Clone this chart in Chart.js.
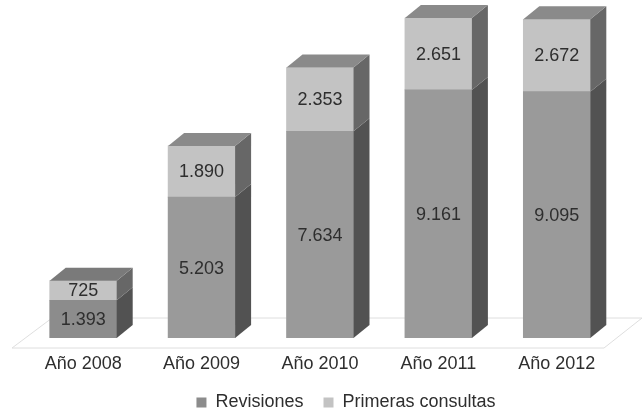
<!DOCTYPE html>
<html>
<head>
<meta charset="utf-8">
<script src="https://cdn.jsdelivr.net/npm/chart.js@4"></script>
<style>
  html, body { margin: 0; padding: 0; background: #fff; }
  #wrap { width: 644px; height: 414px; }
</style>
</head>
<body>
<div id="wrap"><canvas id="chart" width="644" height="414"></canvas></div>
<script>
const years = ['Año 2008', 'Año 2009', 'Año 2010', 'Año 2011', 'Año 2012'];
const revisiones = [1393, 5203, 7634, 9161, 9095];
const primeras = [725, 1890, 2353, 2651, 2672];

// colours
const revFront = ['#8c8c8c', '#9a9a9a', '#9a9a9a', '#9a9a9a', '#9a9a9a'];
const primFront = '#c3c3c3';
const sideColors = ['#525252', '#676767'];
const topColors = ['#7a7a7a', '#8a8a8a', '#8a8a8a', '#8a8a8a', '#8a8a8a'];
const DX = 16, DY = 13;
const FONT = '"Liberation Sans", Arial, sans-serif';

function fmt(n) {
  return String(n).replace(/\B(?=(\d{3})+(?!\d))/g, '.');
}

// floor under the bars
const floorPlugin = {
  id: 'floor',
  beforeDatasetsDraw(chart) {
    const a = chart.chartArea, ctx = chart.ctx;
    ctx.save();
    ctx.beginPath();
    ctx.moveTo(a.left - 12, a.bottom + 10);
    ctx.lineTo(a.right - 12, a.bottom + 10);
    ctx.lineTo(a.right + 26, a.bottom - 20);
    ctx.lineTo(a.left + 28, a.bottom - 20);
    ctx.closePath();
    ctx.fillStyle = '#ffffff';
    ctx.fill();
    ctx.strokeStyle = '#dedede';
    ctx.lineWidth = 1;
    ctx.stroke();
    ctx.restore();
  }
};

// sides, tops and value labels
const box3dPlugin = {
  id: 'box3d',
  afterDatasetsDraw(chart) {
    const ctx = chart.ctx;
    const last = chart.data.datasets.length - 1;
    ctx.save();
    chart.data.datasets.forEach((ds, di) => {
      const meta = chart.getDatasetMeta(di);
      meta.data.forEach((el, i) => {
        const p = el.getProps(['x', 'y', 'base', 'width'], true);
        const l = p.x - p.width / 2, r = p.x + p.width / 2;
        ctx.beginPath();
        ctx.moveTo(r, p.y);
        ctx.lineTo(r + DX, p.y - DY);
        ctx.lineTo(r + DX, p.base - DY);
        ctx.lineTo(r, p.base);
        ctx.closePath();
        ctx.fillStyle = sideColors[di];
        ctx.fill();
        if (di === last) {
          ctx.beginPath();
          ctx.moveTo(l, p.y);
          ctx.lineTo(l + DX, p.y - DY);
          ctx.lineTo(r + DX, p.y - DY);
          ctx.lineTo(r, p.y);
          ctx.closePath();
          ctx.fillStyle = topColors[i];
          ctx.fill();
        }
      });
    });
    ctx.font = '18px ' + FONT;
    ctx.fillStyle = '#2e2e2e';
    ctx.textAlign = 'center';
    ctx.textBaseline = 'middle';
    chart.data.datasets.forEach((ds, di) => {
      chart.getDatasetMeta(di).data.forEach((el, i) => {
        const p = el.getProps(['x', 'y', 'base'], true);
        ctx.fillText(fmt(ds.data[i]), p.x, (p.y + p.base) / 2 + 1);
      });
    });
    ctx.restore();
  }
};

// move legend to where the original has it
const legendShift = {
  id: 'legendShift',
  afterLayout(chart) {
    const lg = chart.legend;
    const dx = 26, dy = -4.5;
    lg.left += dx; lg.right += dx;
    lg.top += dy; lg.bottom += dy;
  }
};

new Chart(document.getElementById('chart'), {
  type: 'bar',
  data: {
    labels: years,
    datasets: [
      { label: 'Revisiones', data: revisiones, backgroundColor: revFront, borderWidth: 0 },
      { label: 'Primeras consultas', data: primeras, backgroundColor: primFront, borderWidth: 0 }
    ]
  },
  options: {
    responsive: false,
    animation: false,
    layout: { padding: { top: 13, left: 24, right: 28, bottom: 0 } },
    datasets: { bar: { barThickness: 67 } },
    scales: {
      x: {
        stacked: true,
        grid: { display: false, drawTicks: false },
        border: { display: false },
        ticks: {
          color: '#2e2e2e',
          padding: 15,
          font: { family: FONT, size: 18 }
        },
        afterFit(axis) { axis.height = 40; }
      },
      y: {
        stacked: true,
        display: false,
        min: 0,
        max: 12000
      }
    },
    plugins: {
      legend: {
        position: 'bottom',
        maxHeight: 36,
        labels: {
          boxWidth: 10,
          boxHeight: 10,
          padding: 20,
          color: '#2e2e2e',
          font: { family: FONT, size: 18 }
        }
      },
      tooltip: { enabled: false }
    }
  },
  plugins: [floorPlugin, box3dPlugin, legendShift]
});
</script>
</body>
</html>
